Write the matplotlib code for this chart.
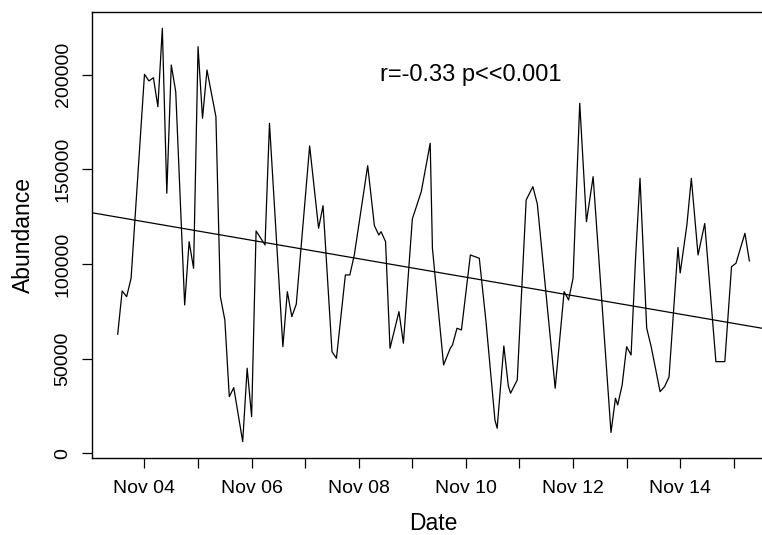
import matplotlib
matplotlib.use("Agg")
import matplotlib.pyplot as plt
import matplotlib.dates as mdates
import numpy as np
import pandas as pd

plt.rcParams['font.family'] = ['Liberation Sans', 'DejaVu Sans']

# sampling times, hours from Nov 04 00:00
hours = [-12, -10, -8, -6, 0, 2, 4, 6, 8, 10, 12, 14, 18, 20, 22, 24, 26, 28,
         32, 34, 36, 38, 40, 44, 46, 48, 50, 54, 56, 62, 64, 66, 68, 74, 78, 80,
         84, 86, 90, 92, 94, 100, 103, 105, 106, 108, 110, 114, 116, 120, 124,
         128, 129, 134, 137, 138, 140, 142, 146, 150, 153, 157, 158, 161, 163,
         164, 167, 171, 174, 176, 184, 188, 190, 192, 195, 198, 201, 209, 211,
         212, 214, 216, 218, 220, 222, 225, 227, 231, 233, 235, 239, 240, 243,
         245, 248, 251, 256, 260, 263, 265, 269, 271]

abundance = [62890, 85780, 82760, 92490, 200300, 196760, 198500, 183180,
             224610, 137410, 205220, 191110, 78380, 111830, 97770, 214890,
             177050, 202570, 177900, 82760, 70450, 29910, 34670, 6130, 44920,
             19340, 117490, 110090, 174400, 56340, 85410, 72190, 78750, 162410,
             118910, 130860, 53700, 50210, 94230, 94230, 104800, 152000, 120290,
             115370, 117120, 111830, 55490, 74840, 58140, 123830, 138260, 163840,
             108340, 46670, 55490, 57240, 66060, 65160, 104800, 103060, 69550,
             17600, 13210, 56710, 35570, 31710, 38740, 133870, 140900, 131760,
             34350, 85410, 81020, 92490, 184980, 122400, 146180, 10990, 29070,
             25530, 36100, 56340, 51950, 103060, 145340, 66060, 56340, 32560,
             35200, 40320, 108770, 95290, 120660, 145340, 104800, 121450, 48410,
             48410, 98620, 100420, 116270, 101630]

stat_label = "r=-0.33 p<<0.001"

start = pd.Timestamp("2016-11-04 00:00")
dates = start + pd.to_timedelta(hours, unit="h")
x = mdates.date2num(dates.to_pydatetime())
y = np.array(abundance, dtype=float)

fig = plt.figure(figsize=(7.62, 5.35), dpi=100)
ax = fig.add_axes([0.1213, 0.1436, 0.8953, 0.8344])

ax.plot(x, y, color="black", lw=0.9)

# R-style 4% padding on both axes
xr = x.max() - x.min()
yr = y.max() - y.min()
ax.set_xlim(x.min() - 0.04 * xr, x.max() + 0.04 * xr)
ax.set_ylim(y.min() - 0.04 * yr, y.max() + 0.04 * yr)

# least squares trend line across the whole panel
slope, intercept = np.polyfit(x, y, 1)
xl = np.array(ax.get_xlim())
ax.plot(xl, intercept + slope * xl, color="black", lw=0.9)

ax.text(mdates.date2num(pd.Timestamp("2016-11-10 02:00")), 200000, stat_label,
        ha="center", va="center", fontsize=17)

days = pd.date_range("2016-11-04", "2016-11-15", freq="D")
ax.set_xticks(mdates.date2num(days.to_pydatetime()))
ax.set_xticklabels([d.strftime("%b %d") if (d.day % 2 == 0) else "" for d in days])
ax.set_yticks([0, 50000, 100000, 150000, 200000])
ax.set_yticklabels(["0", "50000", "100000", "150000", "200000"],
                   rotation=90, va="center")

ax.tick_params(direction="out", length=7, width=0.9, labelsize=14)
ax.tick_params(axis="x", pad=9)
ax.tick_params(axis="y", pad=8)
for s in ax.spines.values():
    s.set_linewidth(1.0)

ax.set_xlabel("Date", fontsize=16.5, va="center")
ax.set_ylabel("Abundance", fontsize=16.5, va="center")
ax.xaxis.set_label_coords(0.5, -0.146)
ax.yaxis.set_label_coords(-0.101, 0.5)

fig.savefig("out.png", dpi=100)
